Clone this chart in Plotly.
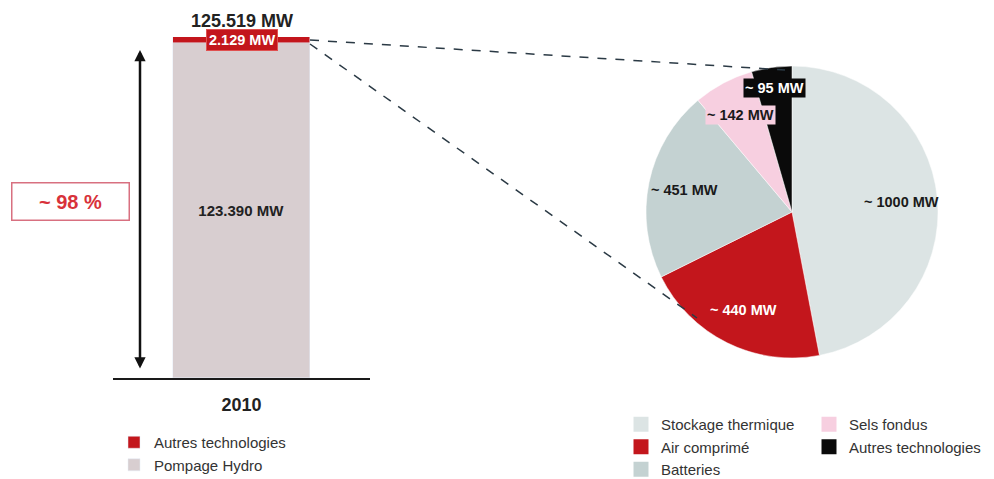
import math
import plotly.graph_objects as go

W, H = 994, 479

# ---- data ----
year = ["2010"]
hydro_mw = [123390]
autres_mw = [2129]
total_mw = [125519]
bar_names = ["Pompage Hydro", "Autres technologies"]
share_text = "~ 98 %"

pie_labels = ["Stockage thermique", "Air comprimé", "Batteries", "Sels fondus", "Autres technologies"]
pie_values = [1000, 440, 451, 142, 95]

# ---- styles ----
C_HYDRO = "#d8ced0"
C_RED = "#c3161c"
pie_colors = ["#dce4e4", "#c3161c", "#c4d2d2", "#f7cfe0", "#0a0a0a"]
pie_text_colors = ["#1a1a1a", "#ffffff", "#1a1a1a", "#1a1a1a", "#ffffff"]
pie_text_bg = ["rgba(0,0,0,0)", "rgba(0,0,0,0)", "rgba(0,0,0,0)", "#f7cfe0", "#0a0a0a"]
pie_label_radius = [0.75, 0.75, 0.75, 0.75, 0.86]   # fraction of pie radius
FONT = "Liberation Sans, Arial, sans-serif"
LEG_FONT = 15

# pie geometry (pixels)
PIE_CX, PIE_CY, PIE_R = 792, 212, 146


def px_x(p):
    return p / W


def px_y(p):
    return 1 - p / H


fig = go.Figure()

fig.add_trace(go.Bar(
    x=year, y=hydro_mw, name=bar_names[0], marker_color=C_HYDRO, width=0.53,
    texttemplate="<b>%{y:,.0f} MW</b>", textposition="inside", insidetextanchor="middle",
    textfont=dict(size=15, color="#222222", family=FONT), legend="legend",
))
fig.add_trace(go.Bar(
    x=year, y=autres_mw, name=bar_names[1], marker_color=C_RED, width=0.53,
    legend="legend",
))

fig.add_trace(go.Pie(
    labels=pie_labels, values=pie_values, sort=False, direction="clockwise", rotation=0,
    marker=dict(colors=pie_colors, line=dict(color="white", width=0.5)),
    textinfo="none",
    domain=dict(x=[px_x(PIE_CX - PIE_R), px_x(PIE_CX + PIE_R)],
                y=[px_y(PIE_CY + PIE_R), px_y(PIE_CY - PIE_R)]),
    showlegend=False,
))

# slice labels, placed along each slice's mid-angle (computed from the values)
total_pie = sum(pie_values)
cum = 0
for v, col, bg, rf in zip(pie_values, pie_text_colors, pie_text_bg, pie_label_radius):
    mid = (cum + v / 2) / total_pie * 2 * math.pi
    cum += v
    lx = PIE_CX + rf * PIE_R * math.sin(mid)
    ly = PIE_CY - rf * PIE_R * math.cos(mid)
    fig.add_annotation(x=px_x(lx), y=px_y(ly), xref="paper", yref="paper",
                       xanchor="center", yanchor="middle", showarrow=False,
                       text=f"<b>~ {v} MW</b>", bgcolor=bg, borderpad=1,
                       font=dict(size=14.5, color=col, family=FONT))

# legend entries for the pie (two columns)
for i, (lab, col) in enumerate(zip(pie_labels, pie_colors)):
    fig.add_trace(go.Scatter(
        x=[None], y=[None], mode="markers", name=lab,
        marker=dict(symbol="square", size=15, color=col),
        xaxis="x2", yaxis="y2",
        legend="legend2" if i < 3 else "legend3",
    ))

legend_common = dict(xanchor="left", yanchor="top", xref="container", yref="container",
                     font=dict(size=LEG_FONT, color="#333333"), bgcolor="rgba(0,0,0,0)")

fig.update_layout(
    width=W, height=H,
    margin=dict(l=0, r=0, t=0, b=0, autoexpand=False),
    paper_bgcolor="white", plot_bgcolor="white",
    barmode="stack", bargap=0,
    separators=",.",
    font=dict(family=FONT, color="#333333"),
    xaxis=dict(
        type="category",
        domain=[px_x(113), px_x(370)], range=[-0.5, 0.5],
        showline=True, linecolor="#1a1a1a", linewidth=1.5,
        showgrid=False, zeroline=False, ticks="outside", ticklen=10, tickcolor="rgba(0,0,0,0)",
        tickvals=year, ticktext=["<b>" + y + "</b>" for y in year],
        tickfont=dict(size=18, color="#222222"),
    ),
    yaxis=dict(domain=[px_y(378), px_y(37)], range=[0, total_mw[0]], visible=False),
    xaxis2=dict(domain=[0, 0.01], visible=False, anchor="y2"),
    yaxis2=dict(domain=[0, 0.01], visible=False, anchor="x2"),
    legend=dict(x=px_x(114), y=px_y(426), traceorder="reversed", tracegroupgap=0, **legend_common),
    legend2=dict(x=px_x(621), y=px_y(408), **legend_common),
    legend3=dict(x=px_x(809), y=px_y(408), **legend_common),
    showlegend=True,
)

bar_pos = year.index("2010")  # category index of the bar

# total label above bar
fig.add_annotation(x=bar_pos, y=total_mw[0], xref="x", yref="y",
                   text="<b>125.519 MW</b>", showarrow=False, yanchor="bottom", yshift=4,
                   font=dict(size=18, color="#222222", family=FONT))
# red label for "Autres technologies"
fig.add_annotation(x=bar_pos, y=hydro_mw[0] + autres_mw[0] / 2, xref="x", yref="y",
                   text="<b>2.129 MW</b>", showarrow=False, bgcolor=C_RED,
                   bordercolor="#e05050", borderwidth=1, borderpad=2,
                   font=dict(size=14.5, color="white", family=FONT))
# double arrow
fig.add_annotation(x=px_x(140), y=px_y(50), ax=0, ay=320,
                   xref="paper", yref="paper", axref="pixel", ayref="pixel",
                   text="", showarrow=True, arrowhead=2, arrowside="end+start",
                   arrowsize=0.9, arrowwidth=2.5, arrowcolor="#111111")
# share box
fig.add_annotation(x=px_x(70), y=px_y(201), xref="paper", yref="paper",
                   xanchor="center", yanchor="middle",
                   text="<b>" + share_text + "</b>", showarrow=False,
                   width=114, height=34, bgcolor="white",
                   bordercolor="#d87080", borderwidth=1.5,
                   font=dict(size=20, color="#d8323a", family=FONT))

# dashed connector lines
fig.add_shape(type="line", xref="paper", yref="paper",
              x0=px_x(310), y0=px_y(40), x1=px_x(785), y1=px_y(70),
              line=dict(color="#2b3a45", width=1.5, dash="dash"))
fig.add_shape(type="line", xref="paper", yref="paper",
              x0=px_x(310), y0=px_y(44), x1=px_x(697), y1=px_y(318),
              line=dict(color="#2b3a45", width=1.5, dash="dash"))

fig.write_html("out.html", config={"displayModeBar": False},
               post_script="document.body.style.margin='0';")
